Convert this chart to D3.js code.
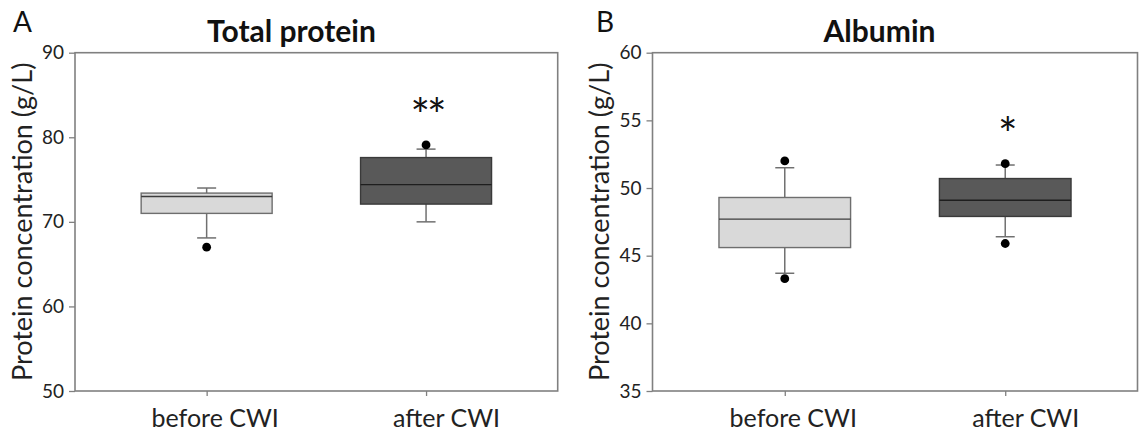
<!DOCTYPE html>
<html>
<head>
<meta charset="utf-8">
<script src="https://cdn.jsdelivr.net/npm/d3@7"></script>
<style>
  body { margin: 0; background: #fff; }
  svg { display: block; font-family: Lato, "Open Sans", sans-serif; }
</style>
</head>
<body>
<svg id="chart" width="1141" height="437"></svg>
<script>
const groups = ['before CWI', 'after CWI']

// Total protein (g/L)
const tpLowWhisker = [68.1, 70.0]
const tpQ1 = [71.0, 72.1]
const tpMedian = [73.0, 74.4]
const tpQ3 = [73.4, 77.6]
const tpHighWhisker = [74.0, 78.6]
const tpOutliers = [[67.0], [79.1]]
const tpStars = ['', '**']
const tpTicks = [50, 60, 70, 80, 90]

// Albumin (g/L)
const alLowWhisker = [43.7, 46.4]
const alQ1 = [45.6, 47.9]
const alMedian = [47.7, 49.1]
const alQ3 = [49.3, 50.7]
const alHighWhisker = [51.5, 51.7]
const alOutliers = [[43.3, 52.0], [45.9, 51.8]]
const alStars = ['', '*']
const alTicks = [35, 40, 45, 50, 55, 60]

const boxFill = ['#d9d9d9', '#595959']
const boxStroke = ['#6e6e6e', '#3a3a3a']
const medianStroke = ['#3c3c3c', '#1e1e1e']
// labels sit a little right of their ticks in the original
const labelShift = [8, 20]

const svg = d3.select('#chart')

const renderPanel = (opt) => {
    const innerWidth = opt.right - opt.left
    const innerHeight = opt.bottom - opt.top

    const data = groups.map((name, i) => ({
        name,
        lo: opt.low[i], q1: opt.q1[i], med: opt.median[i],
        q3: opt.q3[i], hi: opt.high[i], out: opt.outliers[i], star: opt.stars[i], i
    }))

    const xScale = d3.scalePoint()
        .domain(groups)
        .range([0, innerWidth])
        .padding(0.6)

    const yScale = d3.scaleLinear()
        .domain(d3.extent(opt.ticks))
        .range([innerHeight, 0])

    const boxW = xScale.step() * 0.597
    const capW = 19

    const g = svg.append('g')
        .attr('transform', `translate(${opt.left},${opt.top})`)

    // panel letter and title
    svg.append('text')
        .attr('x', opt.letterX)
        .attr('y', 32)
        .attr('font-size', 28)
        .attr('fill', '#111')
        .text(opt.letter)

    svg.append('text')
        .attr('x', opt.titleX)
        .attr('y', 42)
        .attr('text-anchor', 'middle')
        .attr('font-size', 30)
        .attr('font-weight', 'bold')
        .attr('fill', '#111')
        .text(opt.title)

    // axes
    const yAxisG = g.append('g').call(d3.axisLeft(yScale)
        .tickValues(opt.ticks)
        .tickSize(6)
        .tickPadding(5))
    yAxisG.select('.domain').remove()
    yAxisG.selectAll('line').attr('stroke', '#808080').attr('stroke-width', 1.3)
    yAxisG.selectAll('text').attr('font-size', 19).attr('fill', '#222')
        .attr('font-family', 'Lato, sans-serif')

    const xAxisG = g.append('g').call(d3.axisBottom(xScale)
        .tickSize(5)
        .tickPadding(13))
        .attr('transform', `translate(0,${innerHeight})`)
    xAxisG.select('.domain').remove()
    xAxisG.selectAll('line').attr('stroke', '#808080').attr('stroke-width', 1.3)
    xAxisG.selectAll('text').attr('font-size', 25).attr('fill', '#222')
        .attr('font-family', 'Lato, sans-serif')
        .attr('dx', (d, i) => labelShift[i])

    g.append('text')
        .attr('transform', `translate(${-43.5},${innerHeight / 2}) rotate(-90)`)
        .attr('text-anchor', 'middle')
        .attr('font-size', 27)
        .attr('fill', '#222')
        .text('Protein concentration (g/L)')

    // frame
    g.append('rect')
        .attr('width', innerWidth)
        .attr('height', innerHeight)
        .attr('fill', 'none')
        .attr('stroke', '#808080')
        .attr('stroke-width', 1.6)

    const boxes = g.selectAll('.box')
        .data(data)
        .enter()
        .append('g')
        .attr('class', 'box')
        .attr('transform', d => `translate(${xScale(d.name)},0)`)

    // whiskers
    boxes.append('line')
        .attr('y1', d => yScale(d.hi)).attr('y2', d => yScale(d.q3))
        .attr('stroke', '#707070').attr('stroke-width', 1.5)
    boxes.append('line')
        .attr('y1', d => yScale(d.lo)).attr('y2', d => yScale(d.q1))
        .attr('stroke', '#707070').attr('stroke-width', 1.5)
    boxes.append('line')
        .attr('x1', -capW / 2).attr('x2', capW / 2)
        .attr('y1', d => yScale(d.hi)).attr('y2', d => yScale(d.hi))
        .attr('stroke', '#707070').attr('stroke-width', 1.5)
    boxes.append('line')
        .attr('x1', -capW / 2).attr('x2', capW / 2)
        .attr('y1', d => yScale(d.lo)).attr('y2', d => yScale(d.lo))
        .attr('stroke', '#707070').attr('stroke-width', 1.5)

    boxes.append('rect')
        .attr('x', -boxW / 2)
        .attr('width', boxW)
        .attr('y', d => yScale(d.q3))
        .attr('height', d => yScale(d.q1) - yScale(d.q3))
        .attr('fill', d => boxFill[d.i])
        .attr('stroke', d => boxStroke[d.i])
        .attr('stroke-width', 1.4)

    boxes.append('line')
        .attr('x1', -boxW / 2).attr('x2', boxW / 2)
        .attr('y1', d => yScale(d.med)).attr('y2', d => yScale(d.med))
        .attr('stroke', d => medianStroke[d.i])
        .attr('stroke-width', 1.4)

    boxes.selectAll('circle')
        .data(d => d.out)
        .enter()
        .append('circle')
        .attr('cy', v => yScale(v))
        .attr('r', 4.4)
        .attr('fill', '#000')

    // significance marks
    boxes.append('text')
        .attr('text-anchor', 'middle')
        .attr('x', 1)
        .attr('y', d => yScale(d3.max([d.hi, ...d.out])) - 39 + 26)
        .attr('font-size', 46)
        .attr('letter-spacing', -3)
        .attr('fill', '#111')
        .text(d => d.star)
}

renderPanel({
    left: 75, right: 557.7, top: 52.7, bottom: 391,
    letter: 'A', letterX: 13, title: 'Total protein', titleX: 291.5,
    low: tpLowWhisker, q1: tpQ1, median: tpMedian, q3: tpQ3, high: tpHighWhisker,
    outliers: tpOutliers, stars: tpStars, ticks: tpTicks
})

renderPanel({
    left: 652.5, right: 1137.5, top: 52.7, bottom: 391,
    letter: 'B', letterX: 596, title: 'Albumin', titleX: 879.5,
    low: alLowWhisker, q1: alQ1, median: alMedian, q3: alQ3, high: alHighWhisker,
    outliers: alOutliers, stars: alStars, ticks: alTicks
})
</script>
</body>
</html>
